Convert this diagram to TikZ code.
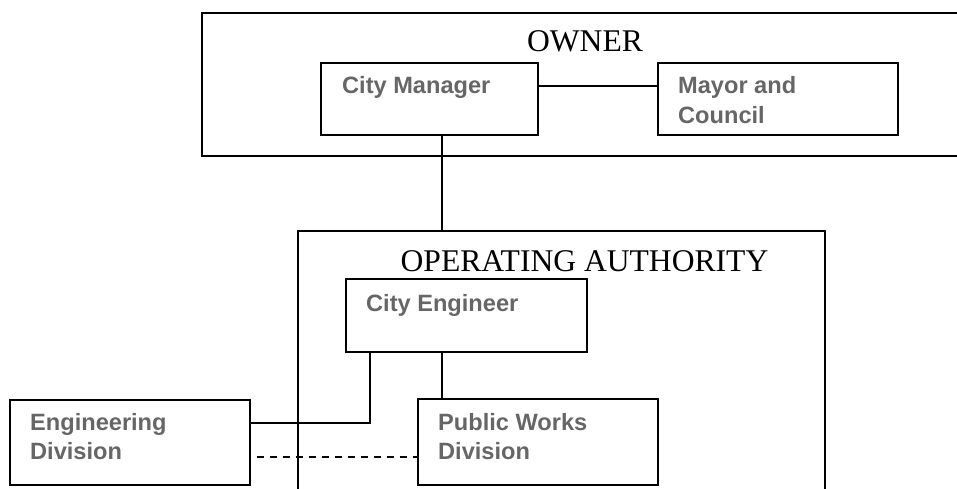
\documentclass[tikz,border=0pt]{standalone}
\usepackage{fontspec}
\newfontfamily\boxfont{Liberation Sans}
\newfontfamily\headfont{Liberation Serif}
\definecolor{boxtext}{HTML}{666666}
\begin{document}
\begin{tikzpicture}[x=1bp,y=-1bp,
  frame/.style={draw=black,line width=1.6bp,rectangle,inner sep=0pt,anchor=north west},
  boxlabel/.style={anchor=base west,inner sep=0pt,align=left,text=boxtext,
    font=\boxfont\bfseries\fontsize{23.6bp}{29.5bp}\selectfont},
  headlabel/.style={anchor=base,inner sep=0pt,text=black,
    font=\headfont\fontsize{31.6bp}{36bp}\selectfont},
  link/.style={draw=black,line width=1.6bp},
  dashlink/.style={draw=black,line width=1.6bp,dash pattern=on 7bp off 6bp}]
\useasboundingbox (0,0) rectangle (957,489);
\clip (0,0) rectangle (957,489);
% outer frames
\node[frame,minimum width=800bp,minimum height=143bp] (owner) at (201,12) {};
\node[frame,minimum width=527bp,minimum height=300bp] (op) at (297,230) {};
\node[headlabel] (ownerT) at (585,52) {OWNER};
\node[headlabel] (opT) at (584.5,272) {OPERATING AUTHORITY};
% inner boxes
\node[frame,minimum width=217bp,minimum height=72bp] (cm) at (320,62) {};
\node[frame,minimum width=240bp,minimum height=72bp] (mc) at (657,62) {};
\node[frame,minimum width=241bp,minimum height=73bp] (ce) at (345,278) {};
\node[frame,minimum width=240bp,minimum height=85bp] (ed) at (9,399) {};
\node[frame,minimum width=240bp,minimum height=86bp] (pw) at (417,398) {};
% box texts (base anchor = baseline of the last line)
\node[boxlabel] (cmT) at (342,94) {City Manager};
\node[boxlabel] (mcT) at (678,123.5) {Mayor and\\Council};
\node[boxlabel] (ceT) at (366,312) {City Engineer};
\node[boxlabel] (edT) at (30,459.5) {Engineering\\Division};
\node[boxlabel] (pwT) at (438,459.5) {Public Works\\Division};
% connectors
\draw[link] ([yshift=-24bp]cm.north east) -- ([yshift=-24bp]mc.north west);
\coordinate (cmdrop) at ([xshift=12.5bp]cm.south);
\draw[link] (cmdrop) -- (cmdrop |- op.north);
\coordinate (cedrop) at ([xshift=-24.5bp]ce.south);
\draw[link] (cedrop) -- (cedrop |- pw.north);
\coordinate (celeft) at ([xshift=-96.5bp]ce.south);
\draw[link] (celeft) |- ([yshift=19.5bp]ed.east);
\coordinate (dashstart) at ([xshift=6bp,yshift=-14.5bp]ed.east);
\draw[dashlink] (dashstart) -- (dashstart -| pw.west);
\end{tikzpicture}
\end{document}
